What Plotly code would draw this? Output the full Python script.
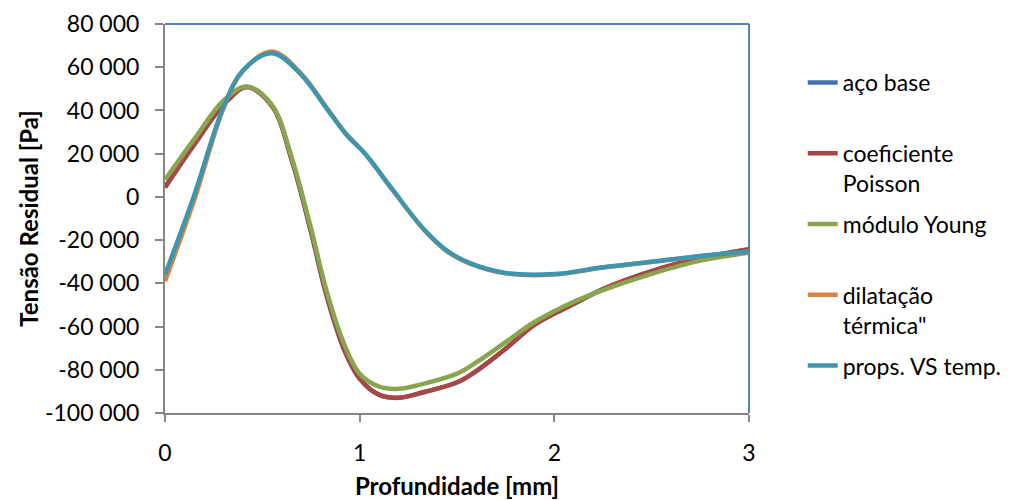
import plotly.graph_objects as go

# ---- data ----
depth_low = [0, 0.15, 0.3, 0.42, 0.55, 0.65, 0.75, 0.83, 0.92, 1.0, 1.1, 1.2,
             1.33, 1.5, 1.6, 1.75, 1.9, 2.1, 2.25, 2.5, 2.75, 3.0]
aco_base = [4300, 24100, 42500, 50800, 42000, 17400, -16200, -45700, -70700,
            -84200, -91700, -93000, -90400, -85900, -80600, -70300, -59100,
            -49600, -42700, -34400, -28400, -24300]
coef_poisson = [4500, 24300, 42600, 50800, 42000, 17500, -16000, -45500, -70500,
                -84000, -91500, -92900, -90300, -85800, -80500, -70200, -59000,
                -49500, -42600, -34300, -28300, -24200]
modulo_young = [7900, 26700, 44500, 51100, 42500, 18500, -14500, -43500, -68000,
                -81800, -87800, -88800, -86400, -81800, -76500, -67200, -57800,
                -48500, -43100, -35600, -29500, -25800]

depth_up = [0, 0.15, 0.3, 0.4, 0.55, 0.7, 0.83, 0.93, 1.03, 1.17, 1.33, 1.45,
            1.57, 1.75, 2.0, 2.25, 2.5, 2.75, 3.0]
dilatacao = [-39000, -1500, 40800, 58300, 67300, 57000, 41300, 29200, 19800,
             3100, -15200, -25300, -31000, -35400, -35900, -32700, -30100,
             -27500, -25400]
props_temp = [-36000, 800, 41500, 58500, 66500, 56500, 41000, 29000, 19700,
              3200, -15000, -25000, -30800, -35200, -35700, -32600, -30000,
              -27400, -25300]

series_names = ["aço base", "coeficiente<br>Poisson", "módulo Young",
                "dilatação<br>térmica\"", "props. VS temp."]
series_colors = ["#4470AD", "#AA4643", "#89A54E", "#DB843D", "#3D96AE"]

x_ticks = [0, 1, 2, 3]
x_ticktext = ["0", "1", "2", "3"]
y_ticks = [80000, 60000, 40000, 20000, 0, -20000, -40000, -60000, -80000, -100000]
y_ticktext = ["80 000", "60 000", "40 000", "20 000", "0", "-20 000", "-40 000",
              "-60 000", "-80 000", "-100 000"]

FONT = "Lato, Open Sans, sans-serif"

fig = go.Figure()
all_x = [depth_low, depth_low, depth_low, depth_up, depth_up]
all_y = [aco_base, coef_poisson, modulo_young, dilatacao, props_temp]
for i, (name, col) in enumerate(zip(series_names, series_colors)):
    label = name if "<br>" in name else name + "<br> "
    fig.add_trace(go.Scatter(
        x=all_x[i], y=all_y[i], mode="lines", name=label,
        legendgroup=f"g{i}",
        line=dict(color=col, width=4.5, shape="spline", smoothing=1.0),
    ))

axis_col = "#868686"
fig.update_layout(
    width=1011, height=492,
    margin=dict(l=157, r=266, t=16, b=87),
    paper_bgcolor="white", plot_bgcolor="white",
    font=dict(family=FONT, size=23, color="black"),
    showlegend=True,
    legend=dict(x=1.092, xanchor="left", y=0.905, yanchor="top",
                traceorder="grouped", tracegroupgap=8, valign="top",
                font=dict(family=FONT, size=23, color="black"),
                bgcolor="rgba(0,0,0,0)", borderwidth=0),
    xaxis=dict(range=[0, 3], tickvals=x_ticks, ticktext=x_ticktext,
               showgrid=False, zeroline=False, showline=True,
               linecolor=axis_col, linewidth=2, ticks="outside", ticklen=7,
               tickwidth=2, tickcolor=axis_col, ticklabelstandoff=11,
               tickfont=dict(family=FONT, size=23),
               automargin=False,
               title=dict(text="<b>Profundidade [mm]</b>", standoff=27,
                          font=dict(family=FONT, size=24))),
    yaxis=dict(range=[-100000, 80000], tickvals=y_ticks, ticktext=y_ticktext,
               showgrid=False, zeroline=False, showline=True,
               linecolor=axis_col, linewidth=2, ticks="outside", ticklen=8,
               tickwidth=2, tickcolor=axis_col, ticklabelstandoff=11,
               tickfont=dict(family=FONT, size=23),
               automargin=False,
               title=dict(text="<b>Tensão Residual [Pa]</b>", standoff=0,
                          font=dict(family=FONT, size=24))),
    shapes=[
        dict(type="line", xref="paper", yref="paper", x0=0, x1=1, y0=1, y1=1,
             line=dict(color="#4F81BD", width=2), layer="below"),
        dict(type="line", xref="paper", yref="paper", x0=1, x1=1, y0=0, y1=1,
             line=dict(color="#4F81BD", width=2), layer="below"),
    ],
)

fig.write_html("out.html")
